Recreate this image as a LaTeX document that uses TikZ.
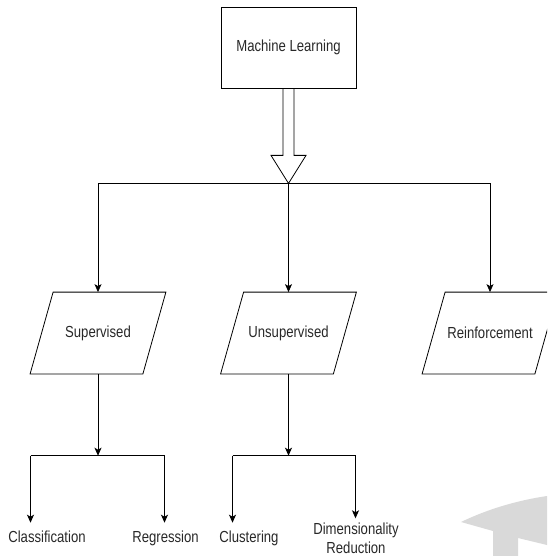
\documentclass[tikz,border=0pt]{standalone}
\usepackage{fontspec}
\setmainfont{Liberation Sans}[FakeStretch=0.82]
\usetikzlibrary{arrows.meta}
\definecolor{mlgray}{RGB}{217,217,217}
\definecolor{mltext}{RGB}{40,40,40}

\begin{document}
\begin{tikzpicture}[x=1pt,y=-1pt,line width=0.8pt,
  every node/.style={font=\fontsize{16}{19}\selectfont,text=mltext},
  box/.style={draw,minimum width=135pt,minimum height=81pt,inner sep=0pt},
  para/.style={minimum width=112pt,minimum height=81pt,inner sep=0pt},
  arr/.style={-{Stealth[length=8pt,width=7pt,inset=2pt]}},
  leaf/.style={anchor=base,inner sep=0pt}]
  \useasboundingbox (0,0) rectangle (547,556);
  \clip (0,0) rectangle (547,556);
  % Grey mark in the corner
  \fill[mlgray] (461,522) .. controls (490,508) and (520,500) .. (547,496)
    -- (547,545) -- (518,538) -- (518,556) -- (493,556) -- (493,531) -- cycle;
  % Root
  \node[box] (ml) at (288.5,47.5) {Machine Learning};
  % Hollow arrow
  \draw (ml.south) ++(-5.5,0) -- ++(0,67) -- ++(-12,0) -- ++(17.5,28)
    -- ++(17.5,-28) -- ++(-12,0) -- ++(0,-67);
  \coordinate (split) at (288.5,183.3);
  % Three kinds
  \node[para] (sup) at (98,333) {Supervised};
  \node[para] (uns) at (288.5,333) {Unsupervised};
  \node[para] (rei) at (490,333) {Reinforcement};
  \foreach \n in {sup,uns,rei}
    \draw ([xshift=11.5pt]\n.north west) -- ([xshift=11.5pt]\n.north east)
      -- ([xshift=-11.5pt]\n.south east) -- ([xshift=-11.5pt]\n.south west) -- cycle;
  \draw (sup.north |- split) -- (rei.north |- split);
  \draw[arr] (split) -- (uns.north);
  \draw[arr] (sup.north |- split) -- (sup.north);
  \draw[arr] (rei.north |- split) -- (rei.north);
  % Supervised branch
  \coordinate (supj) at (98,455.7);
  \coordinate (clsa) at (30.5,455.7);
  \coordinate (rega) at (164.5,455.7);
  \coordinate (clsb) at (30.5,522.7);
  \coordinate (regb) at (164.5,522.7);
  \draw[arr] (sup.south) -- (supj);
  \draw (clsa) -- (rega);
  \draw[arr] (clsa) -- (clsb);
  \draw[arr] (rega) -- (regb);
  \node[leaf] (cls) at (47,542.7) {Classification};
  \node[leaf] (reg) at (165.5,542.7) {Regression};
  % Unsupervised branch
  \coordinate (unsj) at (288.5,455.7);
  \coordinate (clua) at (232.5,455.7);
  \coordinate (dima) at (355.5,455.7);
  \coordinate (club) at (232.5,522.7);
  \coordinate (dimb) at (355.5,518.3);
  \draw[arr] (uns.south) -- (unsj);
  \draw (clua) -- (dima);
  \draw[arr] (clua) -- (club);
  \draw[arr] (dima) -- (dimb);
  \node[leaf] (clu) at (249,542.7) {Clustering};
  \node[leaf,align=center] (dim) at (356,553.3) {Dimensionality\\Reduction};
\end{tikzpicture}
\end{document}
